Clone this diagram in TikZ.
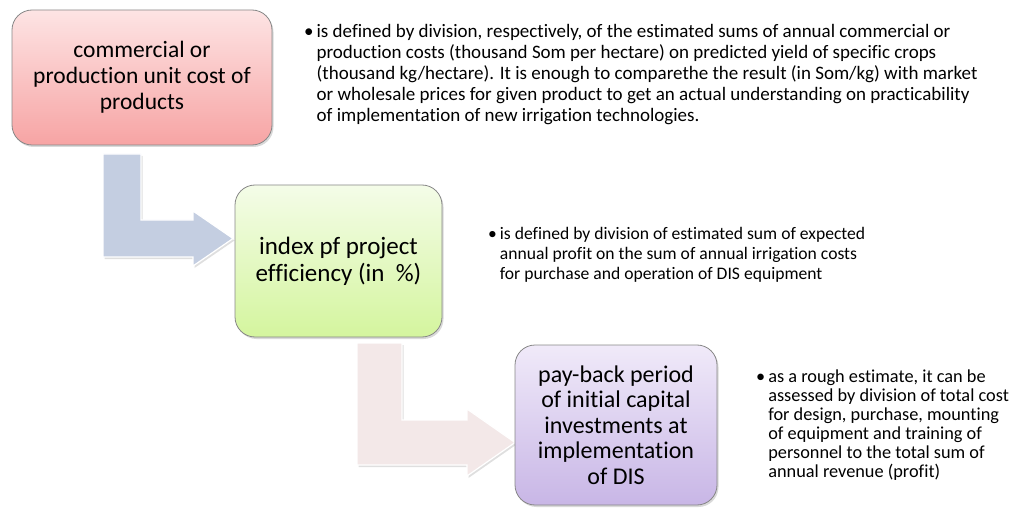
\documentclass[tikz,border=0pt]{standalone}
\usepackage{fontspec}
\setmainfont{Carlito}[Ligatures=NoCommon]
\usetikzlibrary{positioning,shadows}

\definecolor{costtop}{RGB}{253,228,228}
\definecolor{costbot}{RGB}{247,164,164}
\definecolor{efftop}{RGB}{244,252,232}
\definecolor{effbot}{RGB}{212,245,158}
\definecolor{paytop}{RGB}{240,234,249}
\definecolor{paybot}{RGB}{200,182,230}
\definecolor{boxline}{RGB}{135,135,135}
\definecolor{bendblue}{RGB}{196,206,225}
\definecolor{bendpink}{RGB}{243,232,232}

% bullet followed by a block of left aligned lines
\newcommand{\bulletnote}[1]{%
  \begin{tabular}[t]{@{}l@{\hspace{3pt}}l@{}}%
    \textbullet & \begin{tabular}[t]{@{}l@{}}#1\end{tabular}%
  \end{tabular}}

\begin{document}
\begin{tikzpicture}[
  x=1pt, y=-1pt,
  stagebox/.style={draw=boxline, line width=0.8pt, rounded corners=20pt,
    align=center,
    drop shadow={opacity=0.3, shadow xshift=1.5pt, shadow yshift=-2pt}},
  notetext/.style={anchor=north west, inner sep=0pt},
  bendarrow/.style={draw=white, line width=1.2pt, line join=miter,
    drop shadow={opacity=0.25, shadow xshift=1.5pt, shadow yshift=-2pt}}
]
\useasboundingbox (0,0) rectangle (1013,508);

% Bent arrows
\fill[bendarrow, fill=bendblue] (103,154) -- (141,154) -- (141,220)
  -- (193,220) -- (193,211) -- (233,238.5) -- (193,266) -- (193,257)
  -- (103,257) -- cycle;
\fill[bendarrow, fill=bendpink] (357,343) -- (402,343) -- (402,420)
  -- (467,420) -- (467,409) -- (515,442.5) -- (467,476) -- (467,465)
  -- (357,465) -- cycle;

% Stages
\node[stagebox, top color=costtop, bottom color=costbot,
  font=\fontsize{23.5}{26}\selectfont,
  minimum width=260pt, minimum height=135pt] (costbox) at (142,77.5)
  {commercial or\\production unit cost of\\products};
\node[stagebox, top color=efftop, bottom color=effbot,
  font=\fontsize{25}{27}\selectfont,
  minimum width=207pt, minimum height=152pt] (effbox) at (338.5,261)
  {index pf project\\efficiency (in\ \ \%)};
\node[stagebox, top color=paytop, bottom color=paybot,
  font=\fontsize{24}{25.5}\selectfont,
  minimum width=202pt, minimum height=160pt] (paybackbox) at (616,425)
  {pay-back period\\of initial capital\\investments at\\implementation\\of DIS};

% Notes
\node[notetext, font=\fontsize{19}{21}\selectfont] (costnote) at (304,23)
  {\bulletnote{is defined by division, respectively, of the estimated sums of annual commercial or\\
  production costs (thousand Som per hectare) on predicted yield of specific crops\\
  (thousand kg/hectare). It is enough to comparethe the result (in Som/kg) with market\\
  or wholesale prices for given product to get an actual understanding on practicability\\
  of implementation of new irrigation technologies.}};
\node[notetext, font=\fontsize{17.6}{20}\selectfont] (effnote) at (488,225)
  {\bulletnote{is defined by division of estimated sum of expected\\
  annual profit on the sum of annual irrigation costs\\
  for purchase and operation of DIS equipment}};
\node[notetext, font=\fontsize{18.3}{19}\selectfont] (paybacknote) at (756,369)
  {\bulletnote{as a rough estimate, it can be\\
  assessed by division of total cost\\
  for design, purchase, mounting\\
  of equipment and training of\\
  personnel to the total sum of\\
  annual revenue (profit)}};

\end{tikzpicture}
\end{document}
